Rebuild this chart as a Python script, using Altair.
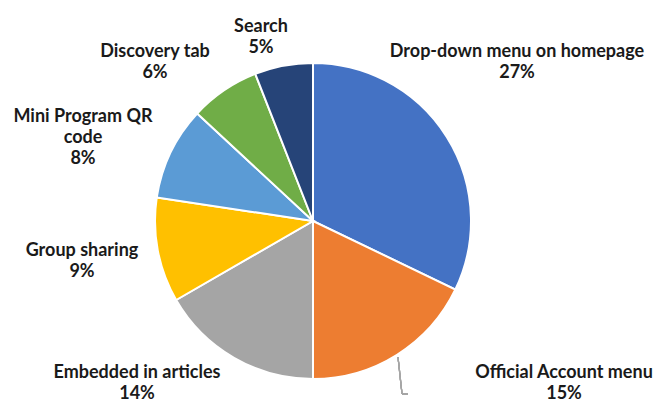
import altair as alt
import pandas as pd

# ---- data ----
channels = [
    "Drop-down menu on homepage",
    "Official Account menu",
    "Embedded in articles",
    "Group sharing",
    "Mini Program QR code",
    "Discovery tab",
    "Search",
]
shares = [27, 15, 14, 9, 8, 6, 5]
label_texts = [
    "Drop-down menu on homepage\n27%",
    "Official Account menu\n15%",
    "Embedded in articles\n14%",
    "Group sharing\n9%",
    "Mini Program QR\ncode\n8%",
    "Discovery tab\n6%",
    "Search\n5%",
]

# ---- styling / layout (kept separate from data) ----
colors = ["#4472C4", "#ED7D31", "#A5A5A5", "#FFC000", "#5B9BD5", "#70AD47", "#264478"]
label_x = [509, 556, 129, 74, 75, 147, 253]
label_y = [43.5, 365, 365, 242.5, 108.5, 43.5, 18.5]
CX, CY, R = 305, 213, 158

df = pd.DataFrame({
    "channel": channels,
    "share": shares,
    "order": list(range(len(channels))),
})
lab = pd.DataFrame({
    "text": label_texts,
    "lx": label_x,
    "ly": label_y,
})

pie = alt.Chart(df).mark_arc(
    stroke="white", strokeWidth=2, outerRadius=R
).encode(
    theta=alt.Theta("share:Q", stack=True),
    color=alt.Color("channel:N", scale=alt.Scale(domain=channels, range=colors), legend=None),
    order=alt.Order("order:Q"),
    x=alt.value(CX),
    y=alt.value(CY),
)

labels = alt.Chart(lab).mark_text(
    font="Lato", fontWeight="bold", fontSize=18, lineHeight=21,
    align="center", baseline="middle", lineBreak="\n", color="#1a1a1a",
).encode(
    x=alt.X("lx:Q", scale=None, axis=None),
    y=alt.Y("ly:Q", scale=None, axis=None),
    text="text:N",
)

leader1 = alt.Chart(df).mark_rule(color="#a6a6a6", strokeWidth=1.2).encode(
    x=alt.value(390), y=alt.value(349), x2=alt.value(394), y2=alt.value(386)
)
leader2 = alt.Chart(df).mark_rule(color="#a6a6a6", strokeWidth=1.2).encode(
    x=alt.value(394), y=alt.value(386), x2=alt.value(400), y2=alt.value(386)
)

chart = alt.layer(pie, leader1, leader2, labels).properties(
    width=646, height=396, padding=0,
    autosize=alt.AutoSizeParams(type="fit", contains="padding"),
).configure_view(stroke=None)

chart.save("out.html", embed_options={"renderer": "svg", "actions": False})
